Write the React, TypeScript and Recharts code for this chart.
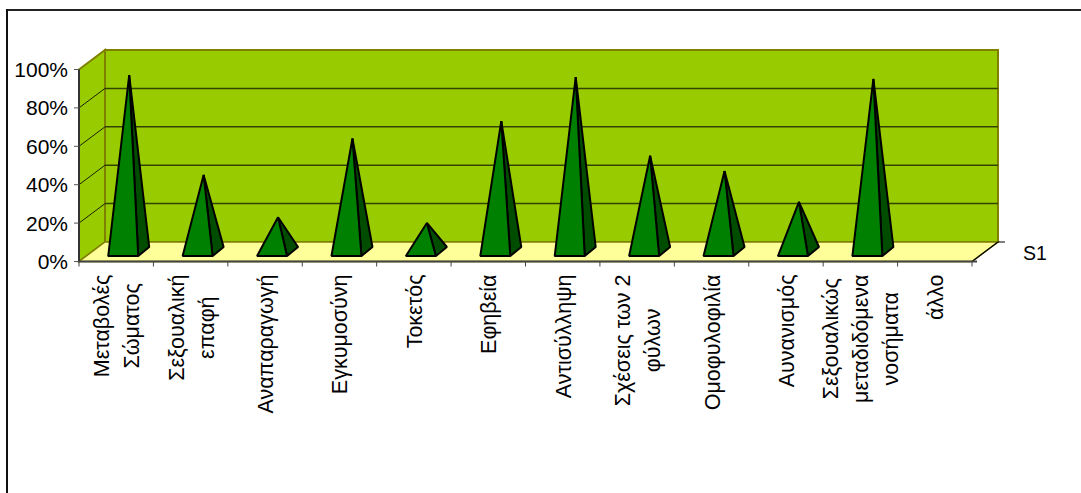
import React from "react";
import { Bar, BarChart, XAxis, YAxis, usePlotArea } from "recharts";

const categories = [
  "Μεταβολές|Σώματος",
  "Σεξουαλική|επαφή",
  "Αναπαραγωγή",
  "Εγκυμοσύνη",
  "Τοκετός",
  "Εφηβεία",
  "Αντισύλληψη",
  "Σχέσεις των 2|φύλων",
  "Ομοφυλοφιλία",
  "Αυνανισμός",
  "Σεξουαλικώς|μεταδιδόμενα|νοσήματα",
  "άλλο",
];
const values = [92, 40, 18, 59, 15, 68, 91, 50, 42, 26, 90, 0];
const yTicks = [0, 20, 40, 60, 80, 100];
const seriesName = "S1";

const data = categories.map((name, i) => ({ name, value: values[i] }));

const FONT = "'Liberation Sans', Arial, sans-serif";
const LABEL_SIZE = 21.5;
const AXIS_SIZE = 21;
const DEPTH_X = 26;
const DEPTH_Y = 19.5;

let ctx: CanvasRenderingContext2D | null = null;
function textWidth(s: string) {
  if (!ctx) {
    ctx = document.createElement("canvas").getContext("2d");
    ctx!.font = `${LABEL_SIZE}px 'Liberation Sans'`;
  }
  return ctx!.measureText(s).width;
}

// 3D walls and floor behind the pyramids
function Walls() {
  const plot = usePlotArea();
  if (!plot) return null;
  const { x, y, width, height } = plot;
  const bottom = y + height;
  const right = x + width;
  const yOf = (v: number) => bottom - (v / 100) * height;
  const step = width / categories.length;
  return (
    <g>
      <polygon
        points={`${x},${yOf(100)} ${x + DEPTH_X},${yOf(100) - DEPTH_Y} ${x + DEPTH_X},${bottom - DEPTH_Y} ${x},${bottom}`}
        fill="#99cc00"
        stroke="#808000"
        strokeWidth={2}
      />
      <rect
        x={x + DEPTH_X}
        y={y - DEPTH_Y}
        width={width}
        height={height}
        fill="#99cc00"
        stroke="#808000"
        strokeWidth={2}
      />
      <polygon
        points={`${x},${bottom} ${right},${bottom} ${right + DEPTH_X},${bottom - DEPTH_Y} ${x + DEPTH_X},${bottom - DEPTH_Y}`}
        fill="#ffff99"
        stroke="#808000"
        strokeWidth={1.5}
      />
      {yTicks
        .filter((v) => v > 0 && v < 100)
        .map((v) => (
          <g key={v} stroke="#334400" strokeWidth={1.5}>
            <line x1={x} y1={yOf(v)} x2={x + DEPTH_X} y2={yOf(v) - DEPTH_Y} stroke="#1a2200" strokeWidth={1} />
            <line x1={x + DEPTH_X} y1={yOf(v) - DEPTH_Y} x2={right + DEPTH_X} y2={yOf(v) - DEPTH_Y} />
          </g>
        ))}
      <line x1={right} y1={bottom} x2={right + DEPTH_X} y2={bottom - DEPTH_Y} stroke="#000" strokeWidth={1.2} />
      <line x1={right + DEPTH_X} y1={bottom - DEPTH_Y} x2={right + DEPTH_X + 7} y2={bottom - DEPTH_Y} stroke="#000" />
      <line x1={x} y1={bottom} x2={right + 5} y2={bottom} stroke="#444" strokeWidth={2} />
      {categories.concat("").map((_, i) => (
        <line
          key={i}
          x1={x + i * step}
          y1={bottom}
          x2={x + i * step}
          y2={bottom + 5}
          stroke="#444"
        />
      ))}
      <text x={right + 51} y={bottom - 2} fontFamily={FONT} fontSize={19.5} fill="#000">
        {seriesName}
      </text>
    </g>
  );
}

function Pyramid(props: any) {
  const { x, y, width, height } = props;
  if (!height || height <= 0) return null;
  const base = y + height;
  const cx = x + width / 2;
  const left = cx - 8;
  const rightX = cx + 22;
  const baseY = base - 5.5;
  const apex = `${cx + 13},${y - 9.75}`;
  return (
    <g stroke="#000" strokeWidth={2} strokeLinejoin="bevel">
      <polygon points={`${rightX},${baseY} ${cx + 33},${baseY - 9} ${apex}`} fill="#004d00" />
      <polygon points={`${left},${baseY} ${rightX},${baseY} ${apex}`} fill="#008000" />
    </g>
  );
}

function CategoryTick(props: any) {
  const { x, y, payload } = props;
  const lines: string[] = String(payload.value).split("|");
  const top = y + 5;
  const longest = Math.max(...lines.map(textWidth));
  const cy = top + longest / 2;
  return (
    <g>
      {lines.map((line, i) => {
        const lx = x + 8 + (i - (lines.length - 1) / 2) * 30;
        return (
          <text
            key={i}
            x={lx}
            y={cy}
            transform={`rotate(-90 ${lx} ${cy})`}
            textAnchor="middle"
            fontFamily={FONT}
            fontSize={LABEL_SIZE}
            fill="#000"
          >
            {line}
          </text>
        );
      })}
    </g>
  );
}

export default function App() {
  return (
    <div style={{ position: "absolute", left: 0, top: 0, width: 1081, height: 493, overflow: "hidden" }}>
      <div style={{ position: "absolute", left: 6, top: 9, width: 1075, height: 2, background: "#222" }} />
      <div style={{ position: "absolute", left: 6, top: 9, width: 1.5, height: 484, background: "#111" }} />
      <BarChart
        width={1081}
        height={493}
        data={data}
        margin={{ top: 69.5, right: 109, bottom: 0, left: 0 }}
        barCategoryGap="60%"
      >
        <Walls />
        <XAxis
          dataKey="name"
          interval={0}
          height={231.5}
          tickLine={false}
          axisLine={false}
          tick={<CategoryTick />}
        />
        <YAxis
          width={79}
          domain={[0, 100]}
          ticks={yTicks}
          tickFormatter={(v: number) => `${v}%`}
          tick={{ fontFamily: FONT, fontSize: AXIS_SIZE, fill: "#000" }}
          tickSize={5}
          tickMargin={6}
          axisLine={{ stroke: "#333", strokeWidth: 2 }}
          tickLine={{ stroke: "#555" }}
        />
        <Bar dataKey="value" name={seriesName} shape={<Pyramid />} isAnimationActive={false} />
      </BarChart>
    </div>
  );
}
